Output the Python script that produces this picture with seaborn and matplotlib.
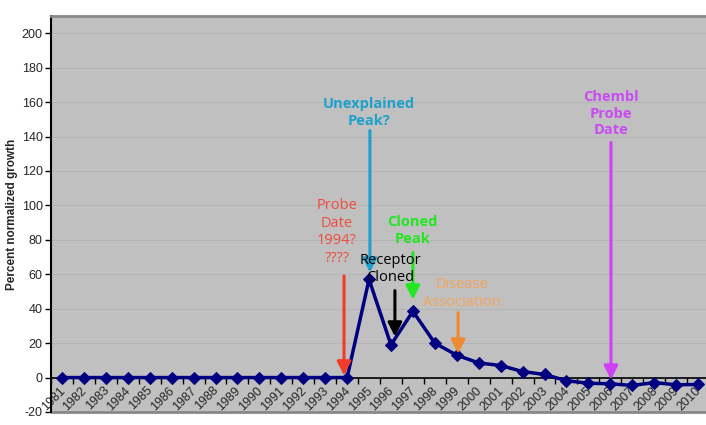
import matplotlib
matplotlib.use("Agg")
import matplotlib.pyplot as plt
import matplotlib.transforms as mtransforms
import seaborn as sns
import pandas as pd
import numpy as np

years = [str(y) for y in range(1981, 2011)]
growth = [0, 0, 0, 0, 0, 0, 0, 0, 0, 0, 0, 0, 0, 0,
          57, 19, 38.5, 20, 13, 8.5, 7, 3.5, 1.8, -1.8,
          -3.3, -3.6, -4.6, -2.9, -4.2, -4]
y_ticks = list(range(-20, 201, 20))

# notes: text, text colour, arrow colour, bold, text x/y, arrow x, arrow start y, arrow end y
notes = [
    ("Probe\nDate\n1994?\n????", "#f04c3c", "#f03c28", False, 12.54, 84.5, 12.86, 59, 1.2),
    ("Unexplained\nPeak?", "#1ea0cc", "#1ea0cc", True, 14.0, 154, 14.04, 143.5, 61),
    ("Receptor\nCloned", "black", "black", False, 14.96, 63, 15.18, 50.5, 23.8),
    ("Cloned\nPeak", "#22e622", "#22e622", True, 15.96, 85.4, 16.0, 72.6, 45.3),
    ("Disease\nAssociation", "#f5a45a", "#f08a30", False, 18.24, 48.8, 18.06, 37.7, 13.9),
    ("Chembl\nProbe\nDate", "#c84cf0", "#d040f8", True, 25.03, 153.3, 25.03, 136.5, -1.2),
]

df = pd.DataFrame({"pos": np.arange(len(years)), "growth": growth})

sns.set_style("white", {"axes.facecolor": "#c0c0c0"})
plt.rcParams["font.family"] = ["Liberation Sans", "DejaVu Sans"]

fig = plt.figure(figsize=(7.06, 4.25), dpi=100)
ax = fig.add_axes([51 / 706, 13 / 425, 658 / 706, 396 / 425])

for v in y_ticks[1:]:
    ax.axhline(v, color="#b4b4b4", lw=0.7, zorder=0)

sns.lineplot(data=df, x="pos", y="growth", ax=ax, color="#000080", lw=2.5,
             marker="D", markersize=6, markeredgecolor="#000080", zorder=3)

# move the axis line first: set_position resets tick styling
ax.spines["bottom"].set_position(("data", 0))
ax.spines["bottom"].set_color("black")
ax.spines["bottom"].set_linewidth(1.2)
ax.spines["left"].set_color("black")
ax.spines["left"].set_linewidth(1.5)
ax.spines["top"].set_color("#888888")
ax.spines["top"].set_linewidth(2)
ax.spines["right"].set_visible(False)
ax.plot([0, 1], [0, 0], transform=ax.transAxes, color="#888888", lw=2, clip_on=False)

ax.set_xlim(-0.5, len(years) - 0.5)
ax.set_ylim(-20, 210)
ax.set_yticks(y_ticks)
ax.set_yticklabels([str(v) for v in y_ticks], fontsize=9)
ax.tick_params(axis="y", direction="out", length=4, width=1, color="black", pad=2, left=True)

ax.set_xticks(np.arange(len(years) + 1) - 0.5, minor=True)
ax.set_xticks(np.arange(len(years)))
ax.set_xticklabels(years, fontsize=9, rotation=45, ha="right", va="top",
                   rotation_mode="anchor")
ax.tick_params(axis="x", which="major", length=0, pad=5)
ax.tick_params(axis="x", which="minor", direction="out", length=4, width=1, color="black", bottom=True)
shift = mtransforms.ScaledTranslation(-3 / 100, 0, fig.dpi_scale_trans)
for lab in ax.get_xticklabels():
    lab.set_transform(lab.get_transform() + shift)

ax.set_xlabel("")
ax.set_ylabel("Percent normalized growth", fontsize=8.5, fontweight="bold", labelpad=3)

for text, tcol, acol, bold, tx, ty, axx, y0, y1 in notes:
    ax.annotate("", xy=(axx, y1), xytext=(axx, y0),
                arrowprops=dict(arrowstyle="-|>,head_width=0.38,head_length=0.75",
                                color=acol, lw=2.2, mutation_scale=11, shrinkA=0, shrinkB=0),
                zorder=4)
    ax.text(tx, ty, text, color=tcol, ha="center", va="center", fontsize=10.5,
            fontweight="bold" if bold else "normal", family=["Open Sans", "DejaVu Sans"],
            linespacing=1.25, zorder=5)

fig.savefig("out.png", dpi=100)
